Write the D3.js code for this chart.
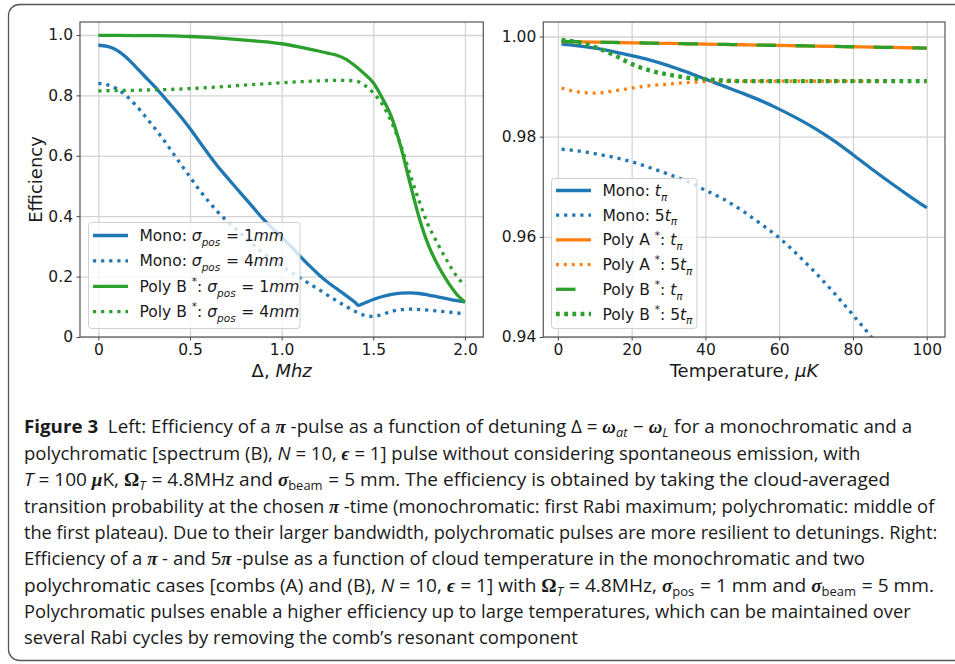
<!DOCTYPE html>
<html>
<head>
<meta charset="utf-8">
<script src="https://cdn.jsdelivr.net/npm/d3@7"></script>
<style>
  body { margin: 0; background: #fff; }
  svg { display: block; }
  text { white-space: pre; }
</style>
</head>
<body>
<svg id="fig" width="955" height="664"></svg>
<script>
(function () {
    'use strict'

    // ---- left panel: efficiency vs detuning ----
    var mono1mmX = [0, 0.05, 0.1, 0.15, 0.2, 0.25, 0.3, 0.35, 0.4, 0.45, 0.5, 0.55, 0.6, 0.65, 0.7, 0.75, 0.8, 0.85, 0.9, 0.95, 1.0, 1.05, 1.1, 1.15, 1.2, 1.25, 1.3, 1.35, 1.4, 1.42, 1.45, 1.5, 1.55, 1.6, 1.65, 1.7, 1.75, 1.8, 1.85, 1.9, 1.95, 2.0]
    var mono1mmY = [0.966, 0.962, 0.95, 0.927, 0.897, 0.865, 0.834, 0.80, 0.765, 0.729, 0.69, 0.648, 0.606, 0.566, 0.53, 0.495, 0.46, 0.425, 0.39, 0.36, 0.33, 0.30, 0.268, 0.237, 0.208, 0.182, 0.16, 0.138, 0.115, 0.105, 0.112, 0.124, 0.134, 0.141, 0.145, 0.146, 0.144, 0.139, 0.133, 0.127, 0.121, 0.116]

    var mono4mmX = [0, 0.05, 0.1, 0.15, 0.2, 0.25, 0.3, 0.35, 0.4, 0.45, 0.5, 0.55, 0.6, 0.65, 0.7, 0.8, 0.9, 1.0, 1.1, 1.2, 1.3, 1.4, 1.45, 1.5, 1.55, 1.6, 1.7, 1.8, 1.9, 2.0]
    var mono4mmY = [0.84, 0.835, 0.822, 0.80, 0.77, 0.735, 0.697, 0.658, 0.615, 0.572, 0.53, 0.488, 0.45, 0.415, 0.385, 0.33, 0.278, 0.235, 0.196, 0.158, 0.12, 0.085, 0.072, 0.068, 0.075, 0.085, 0.092, 0.089, 0.083, 0.077]

    var polyB1mmX = [0, 0.2, 0.4, 0.5, 0.6, 0.7, 0.8, 0.9, 1.0, 1.1, 1.2, 1.25, 1.3, 1.35, 1.4, 1.45, 1.5, 1.55, 1.6, 1.65, 1.7, 1.75, 1.8, 1.85, 1.9, 1.95, 2.0]
    var polyB1mmY = [0.999, 0.998, 0.997, 0.995, 0.992, 0.988, 0.983, 0.978, 0.971, 0.96, 0.947, 0.94, 0.933, 0.92, 0.898, 0.872, 0.842, 0.79, 0.727, 0.63, 0.51, 0.395, 0.305, 0.24, 0.188, 0.145, 0.115]

    var polyB4mmX = [0, 0.2, 0.4, 0.6, 0.8, 1.0, 1.2, 1.3, 1.38, 1.42, 1.46, 1.5, 1.55, 1.6, 1.65, 1.7, 1.75, 1.8, 1.85, 1.9, 1.95, 2.0]
    var polyB4mmY = [0.815, 0.817, 0.82, 0.826, 0.834, 0.842, 0.848, 0.85, 0.849, 0.845, 0.83, 0.808, 0.77, 0.71, 0.635, 0.54, 0.45, 0.37, 0.31, 0.255, 0.205, 0.17]

    var leftXTicks = [0, 0.5, 1.0, 1.5, 2.0]
    var leftXLabels = ['0', '0.5', '1.0', '1.5', '2.0']
    var leftYTicks = [0, 0.2, 0.4, 0.6, 0.8, 1.0]
    var leftYLabels = ['0', '0.2', '0.4', '0.6', '0.8', '1.0']

    // ---- right panel: efficiency vs temperature ----
    var temperature = [1, 5, 10, 15, 20, 25, 30, 35, 40, 45, 50, 55, 60, 65, 70, 75, 80, 85, 90, 95, 100]
    var monoT = [0.9985, 0.9982, 0.9977, 0.9970, 0.9962, 0.9953, 0.9942, 0.9929, 0.9915, 0.9901, 0.9887, 0.9872, 0.9855, 0.9836, 0.9815, 0.9791, 0.9764, 0.9736, 0.9709, 0.9683, 0.9658]
    var mono5T = [0.9775, 0.9772, 0.9766, 0.9759, 0.9750, 0.9738, 0.9725, 0.9711, 0.9693, 0.9675, 0.9652, 0.9626, 0.9598, 0.9564, 0.9527, 0.9487, 0.9444, 0.9400, 0.9352, 0.9300, 0.9245]
    var polyAT = [0.9990, 0.99895, 0.99888, 0.99882, 0.99875, 0.99868, 0.99862, 0.99855, 0.99849, 0.99842, 0.99836, 0.99829, 0.99822, 0.99816, 0.99809, 0.99803, 0.99796, 0.9979, 0.99783, 0.99776, 0.9977]
    var polyA5T = [0.9897, 0.9890, 0.9887, 0.9891, 0.9897, 0.9902, 0.9905, 0.9908, 0.9910, 0.9911, 0.9911, 0.9911, 0.9911, 0.9911, 0.9911, 0.9911, 0.9911, 0.9911, 0.9911, 0.9911, 0.9911]
    var polyBT = [0.9991, 0.99897, 0.99889, 0.99882, 0.99875, 0.99868, 0.99862, 0.99855, 0.99849, 0.99842, 0.99836, 0.99829, 0.99822, 0.99816, 0.99809, 0.99803, 0.99796, 0.9979, 0.99783, 0.99776, 0.9977]
    var polyB5T = [0.9993, 0.9989, 0.9979, 0.9964, 0.9945, 0.9932, 0.9924, 0.9918, 0.9915, 0.9912, 0.9911, 0.9911, 0.9911, 0.9911, 0.9911, 0.9911, 0.9911, 0.9911, 0.9911, 0.9911, 0.9911]

    var rightXTicks = [0, 20, 40, 60, 80, 100]
    var rightYTicks = [0.94, 0.96, 0.98, 1.00]
    var rightYLabels = ['0.94', '0.96', '0.98', '1.00']

    // ---- caption ----
    var captionLines = [
        [['Figure 3', 'b'], ['  Left: Efficiency of a ', ''], ['π', 'm'], [' -pulse as a function of detuning ', ''], ['Δ', ''], [' = ', ''], ['ω', 'm'], ['at', 'i sub'], [' − ', ''], ['ω', 'm'], ['L', 'i sub'], [' for a monochromatic and a', '']],
        [['polychromatic [spectrum (B), ', ''], ['N', 'i'], [' = 10, ', ''], ['ϵ', 'm'], [' = 1] pulse without considering spontaneous emission, with', '']],
        [['T', 'i'], [' = 100 ', ''], ['μ', 'm'], ['K, ', ''], ['Ω', 'm up'], ['T', 'i sub'], [' = 4.8MHz and ', ''], ['σ', 'm'], ['beam', 'sub'], [' = 5 mm. The efficiency is obtained by taking the cloud-averaged', '']],
        [['transition probability at the chosen ', ''], ['π', 'm'], [' -time (monochromatic: first Rabi maximum; polychromatic: middle of', '']],
        [['the first plateau). Due to their larger bandwidth, polychromatic pulses are more resilient to detunings. Right:', '']],
        [['Efficiency of a ', ''], ['π', 'm'], [' - and 5', ''], ['π', 'm'], [' -pulse as a function of cloud temperature in the monochromatic and two', '']],
        [['polychromatic cases [combs (A) and (B), ', ''], ['N', 'i'], [' = 10, ', ''], ['ϵ', 'm'], [' = 1] with ', ''], ['Ω', 'm up'], ['T', 'i sub'], [' = 4.8MHz, ', ''], ['σ', 'm'], ['pos', 'sub'], [' = 1 mm and ', ''], ['σ', 'm'], ['beam', 'sub'], [' = 5 mm.', '']],
        [['Polychromatic pulses enable a higher efficiency up to large temperatures, which can be maintained over', '']],
        [['several Rabi cycles by removing the comb’s resonant component', '']]
    ]
    var captionEnds = [911, 861, 889, 935, 938, 866, 932, 911, 578]

    var blue = '#1f77b4', orange = '#ff7f0e', green = '#2ca02c'
    var svg = d3.select('#fig')
    var font = 'DejaVu Sans'

    // outer frame
    svg.append('rect')
        .attr('x', 8.5).attr('y', 4.5)
        .attr('width', 1000).attr('height', 656)
        .attr('rx', 11)
        .attr('fill', 'none')
        .attr('stroke', '#555')
        .attr('stroke-width', 1.3)

    // rich text helper: segments of [text, tokens]
    function rich(sel, segs, size, serif, subDrop) {
        var shift = 0
        subDrop = subDrop || 0.3
        segs.forEach(function (s) {
            var k = s[1].split(' ')
            var has = function (t) { return k.indexOf(t) >= 0 }
            var ts = sel.append('tspan').text(s[0])
            var target = 0
            if (has('sub')) target = size * subDrop
            if (has('sup')) target = -size * 0.45
            if (target - shift !== 0) ts.attr('dy', target - shift)
            if (shift > 0 && target === 0) ts.attr('dx', 0.8)
            shift = target
            if (target !== 0) ts.attr('font-size', size * 0.68)
            if (has('i')) ts.attr('font-style', 'italic')
            if (has('b')) ts.attr('font-weight', 'bold')
            if (has('m')) {
                ts.attr('font-family', serif).attr('font-weight', 'bold')
                    .attr('font-style', has('up') ? 'normal' : 'italic')
            }
        })
        return sel
    }

    function panel(opt) {
        var g = svg.append('g')
        var x = d3.scaleLinear(opt.xDomain, [opt.left, opt.right])
        var y = d3.scaleLinear(opt.yDomain, [opt.bottom, opt.top])
        var w = opt.right - opt.left, h = opt.bottom - opt.top

        // grid
        g.append('g')
            .attr('transform', 'translate(0,' + opt.bottom + ')')
            .call(d3.axisBottom(x).tickValues(opt.xTicks).tickSize(-h).tickFormat(''))
            .call(function (a) { a.select('.domain').remove() })
            .selectAll('line').attr('stroke', '#d4d4d4').attr('stroke-width', 1.3)
        g.append('g')
            .attr('transform', 'translate(' + opt.left + ',0)')
            .call(d3.axisLeft(y).tickValues(opt.yTicks).tickSize(-w).tickFormat(''))
            .call(function (a) { a.select('.domain').remove() })
            .selectAll('line').attr('stroke', '#d4d4d4').attr('stroke-width', 1.3)

        var clipId = 'clip' + opt.id
        svg.append('clipPath').attr('id', clipId)
            .append('rect').attr('x', opt.left).attr('y', opt.top).attr('width', w).attr('height', h)

        var lines = g.append('g').attr('clip-path', 'url(#' + clipId + ')')
        opt.series.forEach(function (s) {
            var pts = s.x.map(function (v, i) { return [v, s.y[i]] })
            lines.append('path')
                .attr('d', d3.line().x(function (d) { return x(d[0]) }).y(function (d) { return y(d[1]) }).curve(d3.curveMonotoneX)(pts))
                .attr('fill', 'none')
                .attr('stroke', s.color)
                .attr('stroke-width', s.width)
                .attr('stroke-dasharray', s.dash || null)
        })

        // axes
        var ax = g.append('g')
            .attr('transform', 'translate(0,' + opt.bottom + ')')
            .call(d3.axisBottom(x).tickValues(opt.xTicks).tickSize(3.5).tickPadding(3.5)
                .tickFormat(function (d, i) { return opt.xLabels[i] }))
        var ay = g.append('g')
            .attr('transform', 'translate(' + opt.left + ',0)')
            .call(d3.axisLeft(y).tickValues(opt.yTicks).tickSize(3.5).tickPadding(3.5)
                .tickFormat(function (d, i) { return opt.yLabels[i] }))
        ;[ax, ay].forEach(function (a) {
            a.select('.domain').remove()
            a.selectAll('line').attr('stroke', '#444').attr('stroke-width', 1)
            a.selectAll('text').attr('font-family', font).attr('font-size', 15.5).attr('fill', '#1a1a1a')
        })
        g.append('rect')
            .attr('x', opt.left).attr('y', opt.top).attr('width', w).attr('height', h)
            .attr('fill', 'none').attr('stroke', '#555').attr('stroke-width', 1.2)

        // legend
        var lg = opt.legend
        g.append('rect')
            .attr('x', lg.x).attr('y', lg.y).attr('width', lg.w).attr('height', lg.h)
            .attr('rx', 3)
            .attr('fill', '#fff').attr('fill-opacity', 0.8)
            .attr('stroke', '#d0d0d0').attr('stroke-width', 1)
        opt.series.forEach(function (s, i) {
            var cy = lg.row0 + i * lg.step
            g.append('line')
                .attr('x1', lg.x + 4.5).attr('x2', lg.x + 4.5 + 35)
                .attr('y1', cy).attr('y2', cy)
                .attr('stroke', s.color).attr('stroke-width', s.width)
                .attr('stroke-dasharray', s.dash || null)
            var t = g.append('text')
                .attr('x', lg.x + 51).attr('y', cy).attr('dy', '0.36em')
                .attr('font-family', font).attr('font-size', 15.5).attr('fill', '#1a1a1a')
            rich(t, s.label, 15.5, font)
        })
        return g
    }

    var dotted = '3.2,4.9'

    panel({
        id: 'L', left: 80, right: 483.3, top: 22, bottom: 337,
        xDomain: [-0.1, 2.1], yDomain: [0, 1.043],
        xTicks: leftXTicks, xLabels: leftXLabels, yTicks: leftYTicks, yLabels: leftYLabels,
        legend: { x: 88.5, y: 222.5, w: 211.5, h: 106, row0: 235.5, step: 25.4 },
        series: [
            { x: mono1mmX, y: mono1mmY, color: blue, width: 3.3,
              label: [['Mono: ', ''], ['σ', 'i'], ['pos', 'i sub'], [' = 1', ''], ['mm', 'i']] },
            { x: mono4mmX, y: mono4mmY, color: blue, width: 3.3, dash: dotted,
              label: [['Mono: ', ''], ['σ', 'i'], ['pos', 'i sub'], [' = 4', ''], ['mm', 'i']] },
            { x: polyB1mmX, y: polyB1mmY, color: green, width: 3.3,
              label: [['Poly B ', ''], ['*', 'sup'], [': ', ''], ['σ', 'i'], ['pos', 'i sub'], [' = 1', ''], ['mm', 'i']] },
            { x: polyB4mmX, y: polyB4mmY, color: green, width: 3.3, dash: dotted,
              label: [['Poly B ', ''], ['*', 'sup'], [': ', ''], ['σ', 'i'], ['pos', 'i sub'], [' = 4', ''], ['mm', 'i']] }
        ]
    })

    panel({
        id: 'R', left: 543.3, right: 945, top: 22, bottom: 337,
        xDomain: [-3.95, 104.95], yDomain: [0.94, 1.0029],
        xTicks: rightXTicks, xLabels: rightXTicks.map(String), yTicks: rightYTicks, yLabels: rightYLabels,
        legend: { x: 551.5, y: 178.5, w: 145.5, h: 150, row0: 190.5, step: 24.7 },
        series: [
            { x: temperature, y: monoT, color: blue, width: 3.3,
              label: [['Mono: ', ''], ['t', 'i'], ['π', 'i sub']] },
            { x: temperature, y: mono5T, color: blue, width: 3.3, dash: dotted,
              label: [['Mono: 5', ''], ['t', 'i'], ['π', 'i sub']] },
            { x: temperature, y: polyAT, color: orange, width: 3.3,
              label: [['Poly A ', ''], ['*', 'sup'], [': ', ''], ['t', 'i'], ['π', 'i sub']] },
            { x: temperature, y: polyA5T, color: orange, width: 3.3, dash: '2.9,5',
              label: [['Poly A ', ''], ['*', 'sup'], [': 5', ''], ['t', 'i'], ['π', 'i sub']] },
            { x: temperature, y: polyBT, color: green, width: 3.3, dash: '19.5,19.5',
              label: [['Poly B ', ''], ['*', 'sup'], [': ', ''], ['t', 'i'], ['π', 'i sub']] },
            { x: temperature, y: polyB5T, color: green, width: 4.4, dash: '3.8,4.4',
              label: [['Poly B ', ''], ['*', 'sup'], [': 5', ''], ['t', 'i'], ['π', 'i sub']] }
        ]
    })

    // axis titles
    svg.append('text')
        .attr('transform', 'translate(42,179.5) rotate(-90)')
        .attr('text-anchor', 'middle')
        .attr('font-family', font).attr('font-size', 18).attr('fill', '#1a1a1a')
        .text('Efficiency')
    rich(svg.append('text')
        .attr('x', 281.7).attr('y', 377).attr('text-anchor', 'middle')
        .attr('font-family', font).attr('font-size', 18).attr('fill', '#1a1a1a'),
        [['Δ, ', ''], ['Mhz', 'i']], 18, font)
    rich(svg.append('text')
        .attr('x', 744).attr('y', 377).attr('text-anchor', 'middle')
        .attr('font-family', font).attr('font-size', 18).attr('fill', '#1a1a1a'),
        [['Temperature, ', ''], ['μK', 'i']], 18, font)

    // caption
    var capX = 24
    captionLines.forEach(function (segs, i) {
        var t = svg.append('text')
            .attr('x', capX).attr('y', 433.5 + i * 26.35)
            .attr('font-family', 'Open Sans').attr('font-size', 18).attr('fill', '#1a1a1a')
        rich(t, segs, 18, 'Liberation Serif', 0.22)
        var len = t.node().getComputedTextLength()
        var sx = (captionEnds[i] - capX) / len
        if (sx > 0.8 && sx < 1.2) {
            t.attr('transform', 'translate(' + capX + ',0) scale(' + sx + ',1) translate(' + (-capX) + ',0)')
        }
    })
})()
</script>
</body>
</html>
